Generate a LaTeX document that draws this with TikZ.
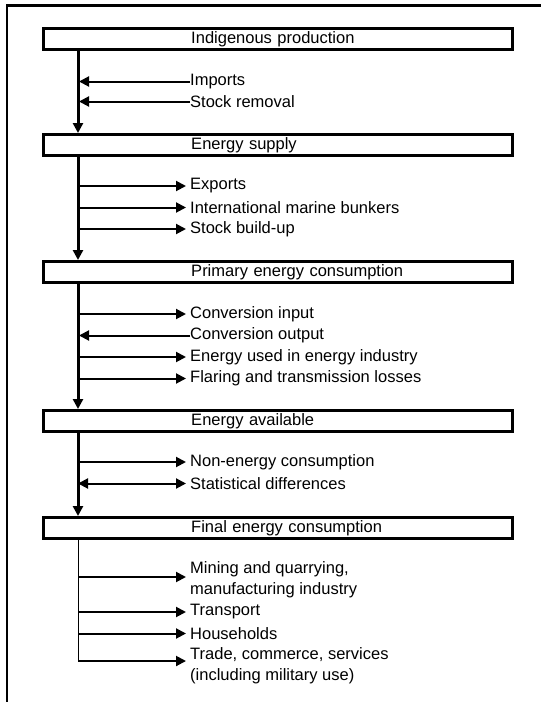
\documentclass[tikz,border=0pt]{standalone}
\usepackage{fontspec}
\setmainfont{Liberation Sans}
\usetikzlibrary{arrows.meta,calc}
\newcommand\lblfont{\fontsize{16.5}{21.5}\selectfont}
\begin{document}
\begin{tikzpicture}[x=1pt,y=-1pt,
  box/.style={draw,line width=2.5pt,minimum width=469pt,minimum height=21pt,
    inner xsep=0pt,inner ysep=0pt,anchor=north west,text width=469pt,align=left,
    text height=12pt,text depth=3pt,font=\lblfont},
  lbl/.style={anchor=west,inner sep=0pt,align=left,font=\lblfont},
  frame/.style={line width=2.5pt},
  spine/.style={line width=3pt,-{Triangle[length=10pt,width=10pt]}},
  thinspine/.style={line width=1pt},
  flow/.style={line width=2pt,-{Triangle[length=10pt,width=10pt]}},
  backflow/.style={line width=2pt,-{Triangle[length=10pt,width=10pt]},shorten >=-0.5pt},
  twoflow/.style={line width=2pt,{Triangle[length=10pt,width=10pt]}-{Triangle[length=10pt,width=10pt]}},
]
\useasboundingbox (0,0) rectangle (541,702);
% outer frame (top and left only)
\coordinate (fTL) at (7,5.5);
\coordinate (fTR) at (541,5.5);
\coordinate (fBL) at (7,702);
\draw[frame] (fTR) -- (fTL) -- (fBL);

% boxes
\node[box] (b1) at (42,27)  {\hspace*{148pt}Indigenous production};
\node[box] (b2) at (42,133) {\hspace*{148pt}Energy supply};
\node[box] (b3) at (42,260) {\hspace*{148pt}Primary energy consumption};
\node[box] (b4) at (42,409) {\hspace*{148pt}Energy available};
\node[box] (b5) at (42,516) {\hspace*{148pt}Final energy consumption};

\coordinate (sp) at (78,0);

% labels
\node[lbl] (imp)  at (190,81.5)  {Imports};
\node[lbl] (srm)  at (190,101.5) {Stock removal};
\node[lbl] (exp)  at (190,186)   {Exports};
\node[lbl] (imb)  at (190,207.5) {International marine bunkers};
\node[lbl] (sbu)  at (190,229)   {Stock build-up};
\node[lbl] (cin)  at (190,314)   {Conversion input};
\node[lbl] (cout) at (190,335.5) {Conversion output};
\node[lbl] (eui)  at (190,357)   {Energy used in energy industry};
\node[lbl] (flr)  at (190,378.5) {Flaring and transmission losses};
\node[lbl] (nec)  at (190,462)   {Non-energy consumption};
\node[lbl] (std)  at (190,483.5) {Statistical differences};
\node[lbl] (mqm)  at (190,579.75){Mining and quarrying,\\manufacturing industry};
\node[lbl] (trn)  at (190,612)   {Transport};
\node[lbl] (hh)   at (190,633.5) {Households};
\node[lbl] (tcs)  at (190,665.75){Trade, commerce, services\\(including military use)};

% spine segments
\draw[spine] ([yshift=1pt]b1.south -| sp) -- (b2.north -| sp);
\draw[spine] ([yshift=1pt]b2.south -| sp) -- (b3.north -| sp);
\draw[spine] ([yshift=1pt]b3.south -| sp) -- (b4.north -| sp);
\draw[spine] ([yshift=1pt]b4.south -| sp) -- (b5.north -| sp);
\coordinate (mqA) at (78,577);
\coordinate (tcA) at (78,661);
\draw[thinspine] (b5.south -| sp) -- (tcA);

% side flows
\draw[backflow] (imp.west) -- ([xshift=1.5pt]sp |- imp.west);
\draw[backflow] (srm.west) -- ([xshift=1.5pt]sp |- srm.west);

\draw[flow,shorten >=4pt] (sp |- exp.west) -- (exp.west);
\draw[flow,shorten >=4pt] (sp |- imb.west) -- (imb.west);
\draw[flow,shorten >=4pt] (sp |- sbu.west) -- (sbu.west);

\draw[flow,shorten >=4pt] (sp |- cin.west) -- (cin.west);
\draw[backflow] (cout.west) -- ([xshift=1.5pt]sp |- cout.west);
\draw[flow,shorten >=4pt] (sp |- eui.west) -- (eui.west);
\draw[flow,shorten >=4pt] (sp |- flr.west) -- (flr.west);

\draw[flow,shorten >=4pt] (sp |- nec.west) -- (nec.west);
\draw[twoflow,shorten >=4pt,shorten <=-1.5pt] ([xshift=1.5pt]sp |- std.west) -- (std.west);

\draw[flow,shorten >=4pt] (mqA) -- (mqA -| mqm.west);
\draw[flow,shorten >=4pt] (sp |- trn.west) -- (trn.west);
\draw[flow,shorten >=4pt] (sp |- hh.west) -- (hh.west);
\draw[flow,shorten >=4pt] (tcA) -- (tcA -| tcs.west);
\end{tikzpicture}
\end{document}
